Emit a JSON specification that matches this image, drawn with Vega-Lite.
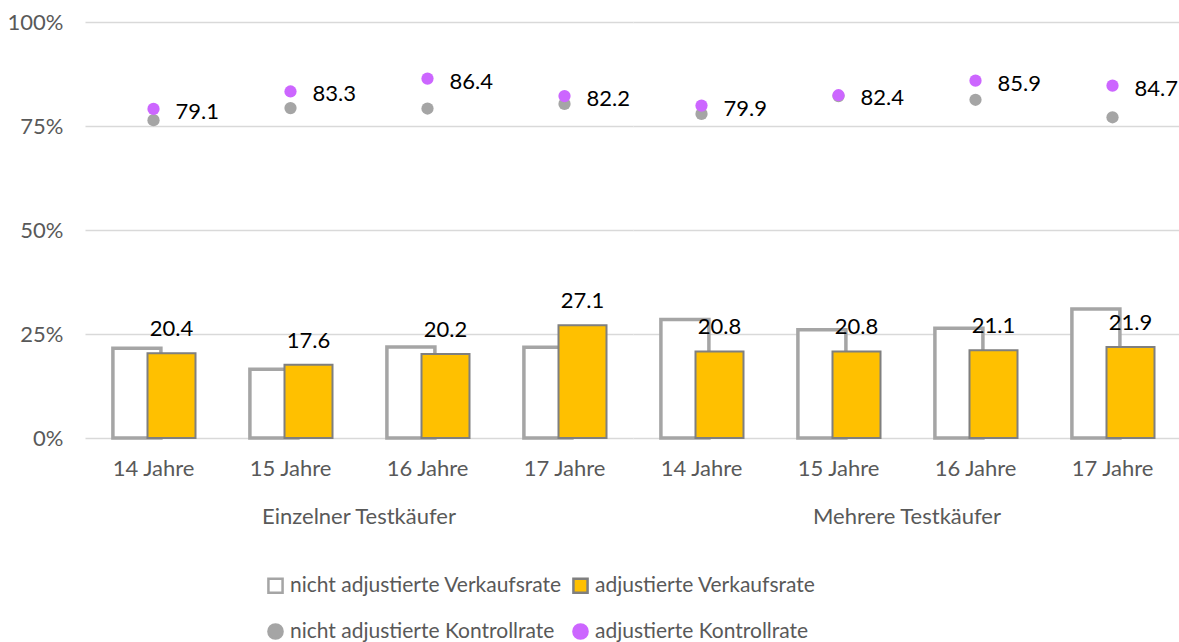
{
  "$schema": "https://vega.github.io/schema/vega-lite/v6.json",
  "padding": {"left": 7, "top": 11, "right": 0, "bottom": 0},
  "background": "white",
  "data": {"values": [
    {"group": "Einzelner Testkäufer", "age": "14 Jahre", "series": "nicht adjustierte Verkaufsrate", "value": 21.6},
    {"group": "Einzelner Testkäufer", "age": "15 Jahre", "series": "nicht adjustierte Verkaufsrate", "value": 16.5},
    {"group": "Einzelner Testkäufer", "age": "16 Jahre", "series": "nicht adjustierte Verkaufsrate", "value": 21.9},
    {"group": "Einzelner Testkäufer", "age": "17 Jahre", "series": "nicht adjustierte Verkaufsrate", "value": 21.8},
    {"group": "Mehrere Testkäufer", "age": "14 Jahre", "series": "nicht adjustierte Verkaufsrate", "value": 28.5},
    {"group": "Mehrere Testkäufer", "age": "15 Jahre", "series": "nicht adjustierte Verkaufsrate", "value": 26.0},
    {"group": "Mehrere Testkäufer", "age": "16 Jahre", "series": "nicht adjustierte Verkaufsrate", "value": 26.4},
    {"group": "Mehrere Testkäufer", "age": "17 Jahre", "series": "nicht adjustierte Verkaufsrate", "value": 31.0},
    {"group": "Einzelner Testkäufer", "age": "14 Jahre", "series": "adjustierte Verkaufsrate", "value": 20.4},
    {"group": "Einzelner Testkäufer", "age": "15 Jahre", "series": "adjustierte Verkaufsrate", "value": 17.6},
    {"group": "Einzelner Testkäufer", "age": "16 Jahre", "series": "adjustierte Verkaufsrate", "value": 20.2},
    {"group": "Einzelner Testkäufer", "age": "17 Jahre", "series": "adjustierte Verkaufsrate", "value": 27.1},
    {"group": "Mehrere Testkäufer", "age": "14 Jahre", "series": "adjustierte Verkaufsrate", "value": 20.8},
    {"group": "Mehrere Testkäufer", "age": "15 Jahre", "series": "adjustierte Verkaufsrate", "value": 20.8},
    {"group": "Mehrere Testkäufer", "age": "16 Jahre", "series": "adjustierte Verkaufsrate", "value": 21.1},
    {"group": "Mehrere Testkäufer", "age": "17 Jahre", "series": "adjustierte Verkaufsrate", "value": 21.9},
    {"group": "Einzelner Testkäufer", "age": "14 Jahre", "series": "nicht adjustierte Kontrollrate", "value": 76.4},
    {"group": "Einzelner Testkäufer", "age": "15 Jahre", "series": "nicht adjustierte Kontrollrate", "value": 79.3},
    {"group": "Einzelner Testkäufer", "age": "16 Jahre", "series": "nicht adjustierte Kontrollrate", "value": 79.2},
    {"group": "Einzelner Testkäufer", "age": "17 Jahre", "series": "nicht adjustierte Kontrollrate", "value": 80.3},
    {"group": "Mehrere Testkäufer", "age": "14 Jahre", "series": "nicht adjustierte Kontrollrate", "value": 77.9},
    {"group": "Mehrere Testkäufer", "age": "15 Jahre", "series": "nicht adjustierte Kontrollrate", "value": 82.2},
    {"group": "Mehrere Testkäufer", "age": "16 Jahre", "series": "nicht adjustierte Kontrollrate", "value": 81.3},
    {"group": "Mehrere Testkäufer", "age": "17 Jahre", "series": "nicht adjustierte Kontrollrate", "value": 77.1},
    {"group": "Einzelner Testkäufer", "age": "14 Jahre", "series": "adjustierte Kontrollrate", "value": 79.1},
    {"group": "Einzelner Testkäufer", "age": "15 Jahre", "series": "adjustierte Kontrollrate", "value": 83.3},
    {"group": "Einzelner Testkäufer", "age": "16 Jahre", "series": "adjustierte Kontrollrate", "value": 86.4},
    {"group": "Einzelner Testkäufer", "age": "17 Jahre", "series": "adjustierte Kontrollrate", "value": 82.2},
    {"group": "Mehrere Testkäufer", "age": "14 Jahre", "series": "adjustierte Kontrollrate", "value": 79.9},
    {"group": "Mehrere Testkäufer", "age": "15 Jahre", "series": "adjustierte Kontrollrate", "value": 82.4},
    {"group": "Mehrere Testkäufer", "age": "16 Jahre", "series": "adjustierte Kontrollrate", "value": 85.9},
    {"group": "Mehrere Testkäufer", "age": "17 Jahre", "series": "adjustierte Kontrollrate", "value": 84.7}
  ]},
  "facet": {
    "column": {
      "field": "group",
      "type": "nominal",
      "sort": ["Einzelner Testkäufer", "Mehrere Testkäufer"],
      "title": null,
      "header": {
        "labelOrient": "bottom",
        "labelFont": "Lato",
        "labelFontSize": 22,
        "labelColor": "#595959",
        "labelPadding": 28
      }
    }
  },
  "spacing": 0,
  "spec": {
    "width": 548,
    "height": 416,
    "encoding": {
      "x": {
        "field": "age",
        "type": "nominal",
        "sort": ["14 Jahre", "15 Jahre", "16 Jahre", "17 Jahre"],
        "title": null,
        "scale": {"paddingInner": 0, "paddingOuter": 0},
        "axis": {
          "labelAngle": 0,
          "domain": false,
          "ticks": false,
          "labelFont": "Lato",
          "labelFontSize": 22,
          "labelColor": "#595959",
          "labelPadding": 18
        }
      },
      "y": {
        "field": "value",
        "type": "quantitative",
        "title": null,
        "scale": {"domain": [0, 100]},
        "axis": {
          "values": [0, 25, 50, 75, 100],
          "labelExpr": "datum.value + '%'",
          "domain": false,
          "ticks": false,
          "grid": true,
          "gridColor": "#D9D9D9",
          "gridWidth": 1.5,
          "labelFont": "Lato",
          "labelFontSize": 22,
          "labelColor": "#595959",
          "labelPadding": 22
        }
      }
    },
    "layer": [
      {
        "transform": [{"filter": "datum.series === 'nicht adjustierte Verkaufsrate'"}],
        "mark": {"type": "bar", "width": 48, "xOffset": -16.6, "fill": "#FFFFFF", "stroke": "#A5A5A5", "strokeWidth": 3.5}
      },
      {
        "transform": [{"filter": "datum.series === 'adjustierte Verkaufsrate'"}],
        "mark": {"type": "bar", "width": 48, "xOffset": 18, "fill": "#FFC000", "stroke": "#7F7F7F", "strokeWidth": 2}
      },
      {
        "transform": [{"filter": "datum.series === 'nicht adjustierte Kontrollrate' || datum.series === 'adjustierte Kontrollrate'"}],
        "mark": {"type": "point", "filled": true, "size": 150, "strokeWidth": 0, "opacity": 1},
        "encoding": {
          "fill": {
            "field": "series",
            "type": "nominal",
            "scale": {
              "domain": ["nicht adjustierte Verkaufsrate", "adjustierte Verkaufsrate", "nicht adjustierte Kontrollrate", "adjustierte Kontrollrate"],
              "range": ["#FFFFFF", "#FFC000", "#A5A5A5", "#CC66FF"]
            },
            "legend": {
              "title": null,
              "orient": "none",
              "legendX": 180,
              "legendY": 553,
              "columns": 2,
              "direction": "horizontal",
              "padding": 0,
              "rowPadding": 21,
              "columnPadding": 6,
              "labelOffset": 4,
              "labelLimit": 0,
              "labelFont": "Lato",
              "labelFontSize": 21,
              "labelColor": "#595959",
              "symbolSize": 200,
              "symbolStrokeWidth": 2.5
            }
          },
          "stroke": {
            "field": "series",
            "type": "nominal",
            "scale": {
              "domain": ["nicht adjustierte Verkaufsrate", "adjustierte Verkaufsrate", "nicht adjustierte Kontrollrate", "adjustierte Kontrollrate"],
              "range": ["#A5A5A5", "#7F7F7F", "#A5A5A5", "#CC66FF"]
            }
          },
          "shape": {
            "field": "series",
            "type": "nominal",
            "scale": {
              "domain": ["nicht adjustierte Verkaufsrate", "adjustierte Verkaufsrate", "nicht adjustierte Kontrollrate", "adjustierte Kontrollrate"],
              "range": ["square", "square", "circle", "circle"]
            }
          }
        }
      },
      {
        "transform": [{"filter": "datum.series === 'adjustierte Verkaufsrate'"}],
        "mark": {"type": "text", "xOffset": 18, "dy": -24, "baseline": "middle", "align": "center", "font": "Lato", "fontSize": 22, "color": "#000000"},
        "encoding": {"text": {"field": "value", "type": "quantitative", "format": ".1f"}}
      },
      {
        "transform": [{"filter": "datum.series === 'adjustierte Kontrollrate'"}],
        "mark": {"type": "text", "dx": 22, "dy": 3, "baseline": "middle", "align": "left", "font": "Lato", "fontSize": 22, "color": "#000000"},
        "encoding": {"text": {"field": "value", "type": "quantitative", "format": ".1f"}}
      }
    ]
  },
  "config": {
    "view": {"stroke": null},
    "font": "Lato"
  }
}
